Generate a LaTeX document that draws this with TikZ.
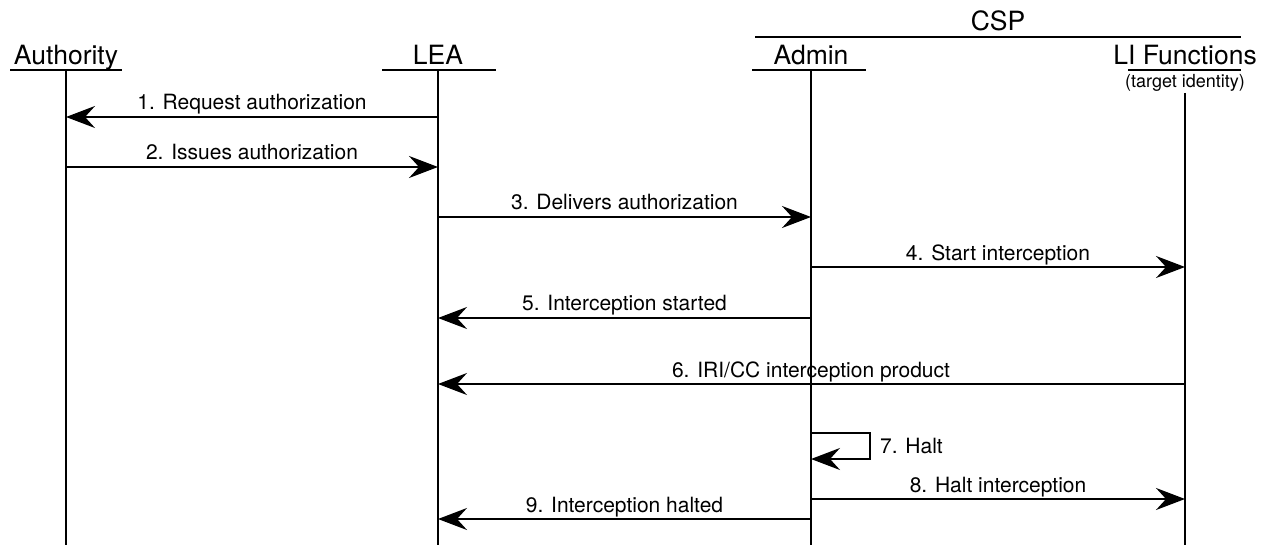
\documentclass[tikz,border=0pt]{standalone}
\usepackage{fontspec}
\setmainfont{TeX Gyre Heros}
\usetikzlibrary{arrows.meta}
\begin{document}
\begin{tikzpicture}[x=1pt,y=-1pt,
  head/.style={font=\fontsize{26.5}{30}\selectfont, anchor=base, inner sep=0pt},
  lbl/.style={font=\fontsize{21}{24}\selectfont, anchor=base, inner sep=0pt},
  smalltxt/.style={font=\fontsize{18}{20}\selectfont, anchor=base, inner sep=0pt},
  life/.style={line width=2pt},
  uline/.style={line width=2.4pt},
  msg/.style={line width=2pt, -{Stealth[length=29pt,width=22pt,inset=10pt]}}]
\useasboundingbox (0,0) rectangle (1265,545);

% headers
\node[head] (auth) at (66,64.5) {Authority};
\node[head] (lea) at (438,64.5) {LEA};
\node[head] (admin) at (811,64.5) {Admin};
\node[head] (li) at (1185,64.5) {LI Functions};
\node[head] (csp) at (998,30.5) {CSP};
\node[smalltxt] (tid) at (1185,87.5) {(target identity)};

% underlines
\coordinate (authUa) at (10,70);   \coordinate (authUb) at (122,70);
\coordinate (leaUa) at (382,70);   \coordinate (leaUb) at (496,70);
\coordinate (adminUa) at (752,70); \coordinate (adminUb) at (866,70);
\coordinate (liUa) at (1128,70);   \coordinate (liUb) at (1241,70);
\coordinate (cspUa) at (755,37);   \coordinate (cspUb) at (1241,37);
\draw[uline] (authUa) -- (authUb);
\draw[uline] (leaUa) -- (leaUb);
\draw[uline] (adminUa) -- (adminUb);
\draw[uline] (liUa) -- (liUb);
\draw[uline] (cspUa) -- (cspUb);

% lifelines
\coordinate (authT) at (66,70);   \coordinate (authB) at (66,545);
\coordinate (leaT) at (438,70);   \coordinate (leaB) at (438,545);
\coordinate (adminT) at (811,70); \coordinate (adminB) at (811,545);
\coordinate (liT) at (1185,93);   \coordinate (liB) at (1185,545);
\draw[life] (authT) -- (authB);
\draw[life] (leaT) -- (leaB);
\draw[life] (adminT) -- (adminB);
\draw[life] (liT) -- (liB);

% messages
\draw[msg] (leaT |- 0,117) -- (authT |- 0,117);
\node[lbl] (l1) at (252,109.5) {1. Request authorization};
\draw[msg] (authT |- 0,167) -- (leaT |- 0,167);
\node[lbl] (l2) at (252,159.5) {2. Issues authorization};
\draw[msg] (leaT |- 0,217) -- (adminT |- 0,217);
\node[lbl] (l3) at (624.5,209.5) {3. Delivers authorization};
\draw[msg] (adminT |- 0,267) -- (liT |- 0,267);
\node[lbl] (l4) at (998,260.5) {4. Start interception};
\draw[msg] (adminT |- 0,318) -- (leaT |- 0,318);
\node[lbl] (l5) at (624.5,310.5) {5. Interception started};
\draw[msg] (liT |- 0,384) -- (leaT |- 0,384);
\node[lbl] (l6) at (811,377.5) {6. IRI/CC interception product};
\coordinate (loopR) at (870,459);
\draw[msg] (adminT |- 0,433) -| (loopR) -- (adminT |- 0,459);
\node[lbl, anchor=base west] (l7) at (880,453.5) {7. Halt};
\draw[msg] (adminT |- 0,499) -- (liT |- 0,499);
\node[lbl] (l8) at (998,492.5) {8. Halt interception};
\draw[msg] (adminT |- 0,519) -- (leaT |- 0,519);
\node[lbl] (l9) at (624.5,512.5) {9. Interception halted};
\end{tikzpicture}
\end{document}
